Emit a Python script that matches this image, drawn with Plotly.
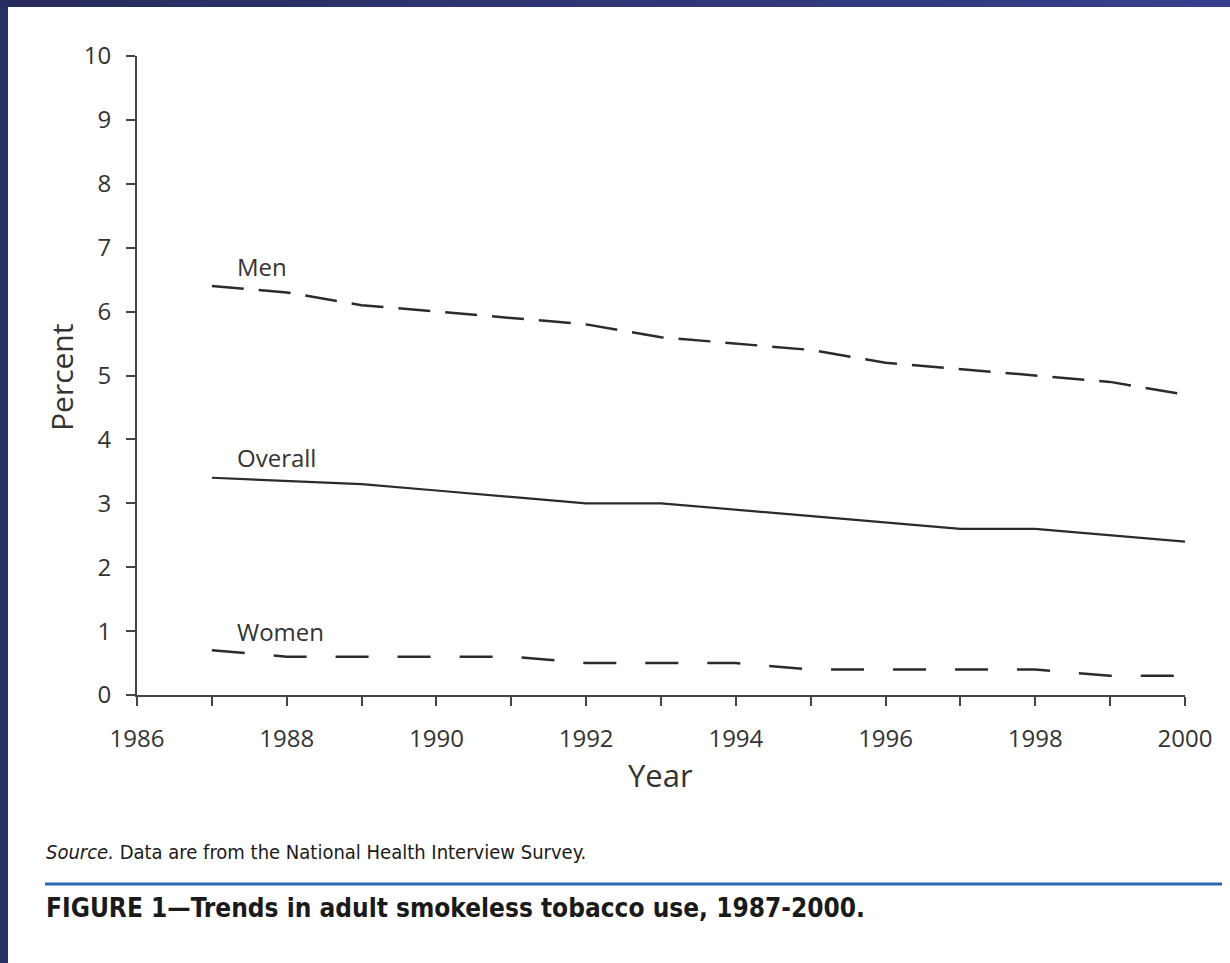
import plotly.graph_objects as go

years = list(range(1987, 2001))
men = [6.4, 6.3, 6.1, 6.0, 5.9, 5.8, 5.6, 5.5, 5.4, 5.2, 5.1, 5.0, 4.9, 4.7]
overall = [3.4, 3.35, 3.3, 3.2, 3.1, 3.0, 3.0, 2.9, 2.8, 2.7, 2.6, 2.6, 2.5, 2.4]
women = [0.7, 0.6, 0.6, 0.6, 0.6, 0.5, 0.5, 0.5, 0.4, 0.4, 0.4, 0.4, 0.3, 0.3]

x_ticks = list(range(1986, 2001))
x_ticklabels = [str(y) if y % 2 == 0 else "" for y in x_ticks]
y_ticks = list(range(0, 11))

W, H = 1230, 963
L, R, T, B = 137, 45, 56, 268
PW, PH = W - L - R, H - T - B

def px(xp):
    return (xp - L) / PW

def py(yp):
    return (T + PH - yp) / PH

FONT = "Open Sans, Noto Sans, sans-serif"
NARROW = "Liberation Sans Narrow, DejaVu Sans Condensed, Arial Narrow, sans-serif"
INK = "#333333"
COND = "font-stretch:condensed"

fig = go.Figure()
fig.add_trace(go.Scatter(x=years, y=men, mode="lines",
                         line=dict(color="#2b2b2b", width=2.5, dash="32px,15px"),
                         showlegend=False))
fig.add_trace(go.Scatter(x=years, y=overall, mode="lines",
                         line=dict(color="#2b2b2b", width=2.2),
                         showlegend=False))
fig.add_trace(go.Scatter(x=years, y=women, mode="lines",
                         line=dict(color="#2b2b2b", width=2.5, dash="33px,29px"),
                         showlegend=False))

shapes = []
shapes.append(dict(type="rect", xref="paper", yref="paper",
                   x0=px(0), x1=px(8), y0=py(H), y1=py(0),
                   fillcolor="#282f66", line=dict(width=0), layer="above"))
n = 30
c0 = (0x27, 0x2c, 0x5c)
c1 = (0x36, 0x40, 0x8c)
for i in range(n):
    t = i / (n - 1)
    col = "#%02x%02x%02x" % tuple(int(round(a + (b - a) * t)) for a, b in zip(c0, c1))
    shapes.append(dict(type="rect", xref="paper", yref="paper",
                       x0=px(W * i / n), x1=px(W * (i + 1) / n + 1),
                       y0=py(7), y1=py(0),
                       fillcolor=col, line=dict(width=0), layer="above"))
shapes.append(dict(type="line", xref="paper", yref="paper",
                   x0=px(45), x1=px(1222), y0=py(884), y1=py(884),
                   line=dict(color="#2a6ab5", width=3)))

annotations = [
    dict(text="Men", x=1987.31, y=6.71, xref="x", yref="y", xanchor="left",
         yanchor="middle", showarrow=False, font=dict(family=FONT, size=24, color=INK)),
    dict(text="Overall", x=1987.31, y=3.72, xref="x", yref="y", xanchor="left",
         yanchor="middle", showarrow=False, font=dict(family=FONT, size=24, color=INK)),
    dict(text="Women", x=1987.31, y=1.0, xref="x", yref="y", xanchor="left",
         yanchor="middle", showarrow=False, font=dict(family=FONT, size=24, color=INK)),
    dict(text="Percent", x=px(62), y=py(378), xref="paper", yref="paper",
         textangle=-90, showarrow=False, xanchor="center", yanchor="middle",
         font=dict(family=FONT, size=30, color=INK)),
    dict(text="Year", x=px(660), y=py(775), xref="paper", yref="paper",
         showarrow=False, xanchor="center", yanchor="middle",
         font=dict(family=FONT, size=31, color=INK)),
    dict(text=f"<span style='{COND}'><i>Source.</i> Data are from the National Health Interview Survey.</span>",
         x=px(44), y=py(852), xref="paper", yref="paper", showarrow=False,
         xanchor="left", yanchor="middle",
         font=dict(family=NARROW, size=20, color="#1a1a1a")),
    dict(text=f"<span style='{COND}'><b>FIGURE 1\u2014Trends in adult smokeless tobacco use, 1987-2000.</b></span>",
         x=px(44), y=py(908), xref="paper", yref="paper", showarrow=False,
         xanchor="left", yanchor="middle",
         font=dict(family=NARROW, size=26, color="#1a1a1a")),
]

fig.update_layout(
    width=W, height=H,
    margin=dict(l=L, r=R, t=T, b=B),
    paper_bgcolor="white", plot_bgcolor="white",
    shapes=shapes, annotations=annotations,
    xaxis=dict(range=[1986, 2000], tickmode="array", tickvals=x_ticks,
               ticktext=x_ticklabels, ticks="outside", ticklen=9, tickwidth=2,
               tickcolor="#444444", showline=True, linecolor="#444444", linewidth=2,
               showgrid=False, zeroline=False, ticklabelstandoff=12,
               tickfont=dict(family=FONT, size=24, color=INK)),
    yaxis=dict(range=[0, 10], tickmode="array", tickvals=y_ticks,
               ticks="outside", ticklen=9, tickwidth=2,
               tickcolor="#444444", showline=True, linecolor="#444444", linewidth=2,
               showgrid=False, zeroline=False, ticklabelstandoff=10,
               tickfont=dict(family=FONT, size=24, color=INK)),
)

fig.write_html("out.html", config={"displayModeBar": False},
               post_script="document.body.style.margin='0px';")
